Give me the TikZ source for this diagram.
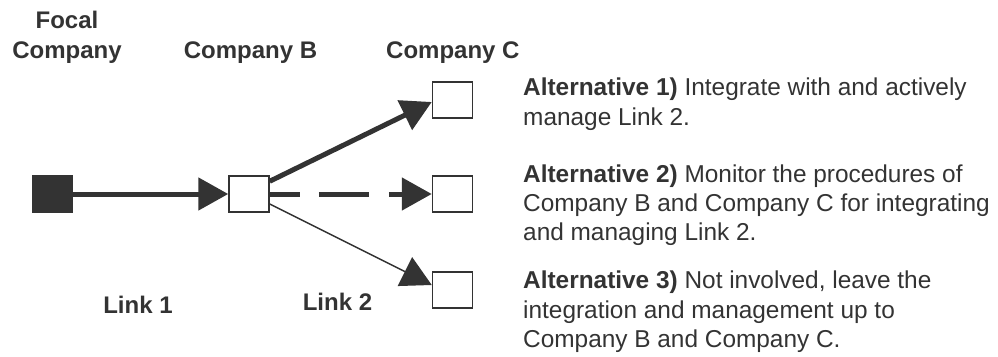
\documentclass[tikz,border=0pt]{standalone}
\usepackage{fontspec}
\setmainfont{Liberation Sans}
\usetikzlibrary{arrows.meta}
\definecolor{ink}{HTML}{333333}
\begin{document}
\begin{tikzpicture}[x=1pt,y=-1pt,
  company/.style={draw=ink,line width=1.5pt,fill=white,minimum width=40pt,minimum height=36pt,inner sep=0pt},
  focal/.style={company,fill=ink},
  lbl/.style={font=\fontsize{24}{30}\selectfont\bfseries,text=ink,inner sep=0pt,anchor=base},
  txt/.style={font=\fontsize{24.4}{30}\selectfont,text=ink,inner sep=0pt,anchor=base west},
  tip/.style={-{Triangle[length=30pt,width=32pt]}},
  thick link/.style={draw=ink,line width=5pt,tip},
  thin link/.style={draw=ink,line width=1.5pt,tip}]
\useasboundingbox (0,0) rectangle (998,356);
% nodes
\node[focal] (F) at (52.5,194) {};
\node[company] (B) at (249,194) {};
\node[company] (C1) at (452.5,100) {};
\node[company] (C2) at (452.5,194) {};
\node[company] (C3) at (452.5,290) {};
% labels
\node[lbl] (lf1) at (67,28) {Focal};
\node[lbl] (lf2) at (67,58) {Company};
\node[lbl] (lb) at (250.5,58) {Company B};
\node[lbl,anchor=base west] (lc) at (386,58) {Company C};
\node[lbl] (l1) at (138,313) {Link 1};
\node[lbl] (l2) at (337.5,310) {Link 2};
% connectors
\draw[thick link] (F.east) -- (B.west);
\coordinate (b1) at ([yshift=-6pt]B.north east);
\coordinate (c1) at ([yshift=-2pt]C1.west);
\draw[thick link] (b1) -- (c1);
\draw[thick link,dash pattern=on 30pt off 19pt on 50pt off 20pt] (B.east) -- (C2.west);
\coordinate (b3) at ([yshift=-10pt]B.east);
\coordinate (c3) at ([yshift=5pt]C3.west);
\draw[thin link] (b3) -- (c3);
% alternatives
\node[txt] (a1) at (523,95) {\textbf{Alternative 1)} Integrate with and actively};
\node[txt] (a1b) at (523,125) {manage Link 2.};
\node[txt] (a2) at (523,182) {\textbf{Alternative 2)} Monitor the procedures of};
\node[txt] (a2b) at (523,211) {Company B and Company C for integrating};
\node[txt] (a2c) at (523,240) {and managing Link 2.};
\node[txt] (a3) at (523,288) {\textbf{Alternative 3)} Not involved, leave the};
\node[txt] (a3b) at (523,318) {integration and management up to};
\node[txt] (a3c) at (523,347) {Company B and Company C.};
\end{tikzpicture}
\end{document}
